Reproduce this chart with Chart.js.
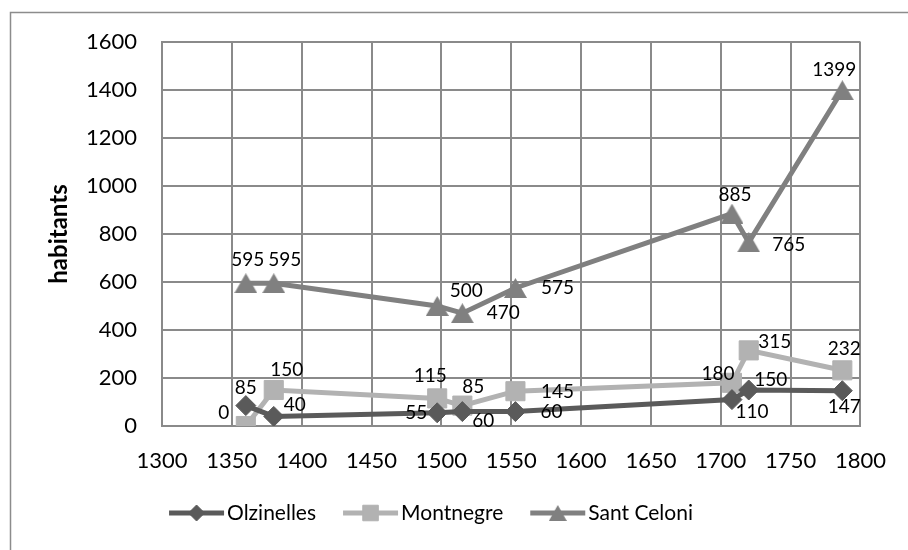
<!DOCTYPE html>
<html>
<head>
<meta charset="utf-8">
<script src="https://cdn.jsdelivr.net/npm/chart.js@4/dist/chart.umd.min.js"></script>
<style>
  html, body { margin: 0; padding: 0; background: #ffffff; }
  #wrap { width: 908px; height: 550px; position: relative; }
</style>
</head>
<body>
<div id="wrap"><canvas id="c" width="908" height="550"></canvas></div>
<script>
// Population counts (habitants) by year for three villages
const years      = [1360, 1380, 1497, 1515, 1553, 1708, 1720, 1787];
const olzinelles = [85, 40, 55, 60, 60, 110, 150, 147];
const montnegre  = [0, 150, 115, 85, 145, 180, 315, 232];
const santCeloni = [595, 595, 500, 470, 575, 885, 765, 1399];

const seriesNames = ['Olzinelles', 'Montnegre', 'Sant Celoni'];
const xTickValues = [1300, 1350, 1400, 1450, 1500, 1550, 1600, 1650, 1700, 1750, 1800];
const yTickValues = [0, 200, 400, 600, 800, 1000, 1200, 1400, 1600];
const yAxisTitle  = 'habitants';

// Where each value label sits relative to its marker (dx, dy in px)
const labelShift = {
  'Olzinelles':  [[0, -18], [21, -12], [-21, 0], [21, 9], [36, 0], [20, 12], [22, -10], [2, 16]],
  'Montnegre':   [[-22, -13], [13, -20], [-7, -23], [11, -19], [42, 1], [-14, -9], [26, -9], [2, -21]],
  'Sant Celoni': [[2, -23], [11, -23], [29, -15], [41, 0], [42, 0], [3, -19], [40, 2], [-8, -20]]
};

const FONT = 'Lato, "Open Sans", sans-serif';
const GRID = '#8a8a8a';

// Upright triangle marker whose box is centred on the point
function triangleMarker(w, h, color) {
  const cv = document.createElement('canvas');
  cv.width = w; cv.height = h;
  const g = cv.getContext('2d');
  g.fillStyle = color;
  g.beginPath();
  g.moveTo(w / 2, 0);
  g.lineTo(w, h);
  g.lineTo(0, h);
  g.closePath();
  g.fill();
  return cv;
}

const styles = {
  'Olzinelles':  { color: '#5a5a5a', pointStyle: 'rectRot', radius: 10, legendRadius: 8 },
  'Montnegre':   { color: '#b2b2b2', pointStyle: 'rect',    radius: 13.5, legendRadius: 11 },
  'Sant Celoni': { color: '#808080', pointStyle: null,      radius: 11, legendRadius: 9 }
};
styles['Sant Celoni'].pointStyle = triangleMarker(23, 20, styles['Sant Celoni'].color);
styles['Sant Celoni'].legendStyle = triangleMarker(18, 16, styles['Sant Celoni'].color);

const seriesValues = [olzinelles, montnegre, santCeloni];

const datasets = seriesNames.map((name, i) => {
  const st = styles[name];
  return {
    label: name,
    data: years.map((yr, j) => ({ x: yr, y: seriesValues[i][j] })),
    borderColor: st.color,
    backgroundColor: st.color,
    borderWidth: 5,
    pointStyle: st.pointStyle,
    pointRadius: st.radius,
    pointBorderWidth: 1,
    pointBackgroundColor: st.color,
    pointBorderColor: st.color,
    tension: 0,
    fill: false
  };
});

// Thin frame around the whole chart
const outerFrame = {
  id: 'outerFrame',
  beforeDraw(chart) {
    const ctx = chart.ctx;
    ctx.save();
    ctx.strokeStyle = '#8c8c8c';
    ctx.lineWidth = 1.5;
    ctx.beginPath();
    ctx.moveTo(10.5, chart.height);
    ctx.lineTo(10.5, 12.5);
    ctx.lineTo(chart.width, 12.5);
    ctx.stroke();
    ctx.restore();
  }
};

// Value labels next to each marker
const valueLabels = {
  id: 'valueLabels',
  afterDatasetsDraw(chart) {
    const ctx = chart.ctx;
    ctx.save();
    ctx.font = '19px ' + FONT;
    ctx.fillStyle = '#000000';
    ctx.textAlign = 'center';
    ctx.textBaseline = 'middle';
    chart.data.datasets.forEach((ds, i) => {
      const meta = chart.getDatasetMeta(i);
      const shifts = labelShift[ds.label];
      meta.data.forEach((pt, j) => {
        const [dx, dy] = shifts[j];
        ctx.fillText(String(ds.data[j].y), pt.x + dx, pt.y + dy);
      });
    });
    ctx.restore();
  }
};

// Legend: line sample with marker, followed by the series name
const lineLegend = {
  id: 'lineLegend',
  afterDraw(chart) {
    const ctx = chart.ctx;
    const sampleLen = 55, gap = 3, itemGap = 27;
    const cy = 513, cx = 431;
    ctx.save();
    ctx.font = '21px ' + FONT;
    const widths = seriesNames.map(n => ctx.measureText(n).width);
    const total = widths.reduce((a, w) => a + sampleLen + gap + w, 0) + itemGap * (seriesNames.length - 1);
    let x = cx - total / 2;
    seriesNames.forEach((name, i) => {
      const st = styles[name];
      ctx.strokeStyle = st.color;
      ctx.lineWidth = 5;
      ctx.beginPath();
      ctx.moveTo(x, cy);
      ctx.lineTo(x + sampleLen, cy);
      ctx.stroke();
      ctx.fillStyle = st.color;
      ctx.strokeStyle = st.color;
      ctx.lineWidth = 1;
      Chart.helpers.drawPoint(ctx, {
        pointStyle: st.legendStyle || st.pointStyle,
        radius: st.legendRadius,
        rotation: 0,
        borderWidth: 1
      }, x + sampleLen / 2, cy);
      ctx.fillStyle = '#000000';
      ctx.textAlign = 'left';
      ctx.textBaseline = 'middle';
      ctx.fillText(name, x + sampleLen + gap, cy);
      x += sampleLen + gap + widths[i] + itemGap;
    });
    ctx.restore();
  }
};

new Chart(document.getElementById('c'), {
  type: 'line',
  data: { datasets },
  options: {
    responsive: false,
    animation: false,
    layout: { padding: { left: 45, top: 42, right: 44, bottom: 64 } },
    plugins: {
      legend: { display: false },
      tooltip: { enabled: false }
    },
    scales: {
      x: {
        type: 'linear',
        min: xTickValues[0],
        max: xTickValues[xTickValues.length - 1],
        afterBuildTicks: s => { s.ticks = xTickValues.map(v => ({ value: v })); },
        afterFit: s => { s.height = 60; },
        grid: { color: GRID, lineWidth: 2, drawTicks: false },
        border: { color: GRID, width: 2 },
        ticks: {
          font: { family: FONT, size: 22 },
          color: '#000000',
          padding: 22,
          maxRotation: 0,
          autoSkip: false,
          callback: v => String(v)
        }
      },
      y: {
        type: 'linear',
        min: yTickValues[0],
        max: yTickValues[yTickValues.length - 1],
        afterBuildTicks: s => { s.ticks = yTickValues.map(v => ({ value: v })); },
        afterFit: s => { s.width = 117; },
        grid: { color: GRID, lineWidth: 2, drawTicks: false },
        border: { color: GRID, width: 2 },
        ticks: {
          font: { family: FONT, size: 22 },
          color: '#000000',
          padding: 25,
          autoSkip: false,
          callback: v => String(v)
        },
        title: {
          display: true,
          text: yAxisTitle,
          font: { family: FONT, size: 24, weight: 'bold' },
          color: '#000000',
          padding: 0
        }
      }
    }
  },
  plugins: [outerFrame, valueLabels, lineLegend]
});
</script>
</body>
</html>
